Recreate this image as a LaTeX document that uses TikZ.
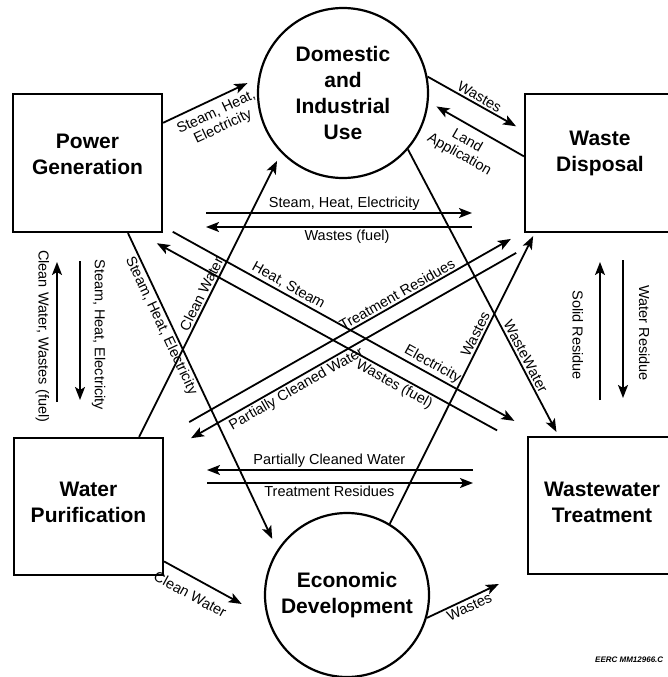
\documentclass[tikz,border=0pt]{standalone}
\usepackage{fontspec}
\setmainfont{Liberation Sans}
\usetikzlibrary{arrows.meta}
\newcommand\headfont{\fontsize{21}{26}\selectfont\bfseries}
\newcommand\tagfont{\fontsize{14.5}{16}\selectfont}
\tikzset{
  unit/.style={draw, line width=2.2pt, minimum width=149pt, minimum height=138pt, inner sep=0pt},
  hub/.style={draw, circle, line width=2.2pt, inner sep=0pt, align=center, font=\headfont},
  title/.style={align=center, font=\headfont},
  flow/.style={line width=1.8pt, ->},
  tag/.style={font=\tagfont, align=center, inner sep=2pt},
  >={Stealth[length=13pt,width=10pt,inset=3pt]},
}
\begin{document}
\begin{tikzpicture}[x=1pt, y=-1pt]
\useasboundingbox (0,0) rectangle (667,677);
% the six sectors
\node[unit] (pg) at (87.5,163) {};
\node[title] (pgname) at ([yshift=9pt]pg.center) {Power\\Generation};
\node[unit, minimum width=150pt] (wd) at (600,163) {};
\node[title] (wdname) at ([yshift=10pt]wd.center) {Waste\\Disposal};
\node[unit, minimum height=137pt] (wp) at (88.5,506.5) {};
\node[title] (wpname) at ([yshift=4pt]wp.center) {Water\\Purification};
\node[unit, minimum width=148pt, minimum height=137pt] (wt) at (602,505.5) {};
\node[title] (wtname) at ([yshift=3.5pt]wt.center) {Wastewater\\Treatment};
\node[hub, minimum size=170pt] (du) at (343,93) {Domestic\\and\\Industrial\\Use};
\node[hub, minimum size=164pt] (ed) at (347,595) {Economic\\Development};

% flows between the sectors
\draw[flow, shorten >=12pt] (pg.28.7) -- (du.170.5)
  node[tag, midway, sloped, below=4pt] {Steam, Heat,\\Electricity};
\draw[flow, shorten >=9pt] (du.11.4) -- (wd.157.2)
  node[tag, midway, sloped, above] {Wastes};
\draw[flow, shorten >=9pt] (wd.175.4) -- (du.-6)
  node[tag, pos=.52, sloped, below=5pt] {Land\\Application};
\draw[flow, shorten >=12pt] (pg.-60.2) -- (ed.147.2)
  node[tag, pos=.28, sloped, below] {Steam, Heat, Electricity};
\draw[flow, shorten >=9pt] (wp.54.7) -- (du.-136)
  node[tag, pos=.49, sloped, above] {Clean Water};
\draw[flow, shorten <=11pt, shorten >=31pt] (pg.-40.4) -- (wt.131.2)
  node[tag, pos=.32, sloped, above] {Heat, Steam}
  node[tag, pos=.70, sloped, above] {Electricity};
\draw[flow, shorten <=34pt, shorten >=21pt] (wt.142.4) -- (pg.-54.3)
  node[tag, pos=.33, sloped, below] {Wastes (fuel)};
\draw[flow, shorten <=30pt, shorten >=15pt] (wp.43.5) -- (wd.-138.4)
  node[tag, pos=.66, sloped, above] {Treatment Residues};
\draw[flow, shorten <=40pt, shorten >=31pt] (wd.-125.9) -- (wp.35.7)
  node[tag, pos=.67, sloped, below] {Partially Cleaned Water};
\draw[flow, shorten >=4.5pt] (du.-41.7) -- (wt.122.1)
  node[tag, pos=.735, sloped, above] {WasteWater};
\draw[flow, shorten >=3.4pt] (ed.59.5) -- (wd.-133.5)
  node[tag, pos=.64, sloped, above] {Wastes};
\draw[flow, shorten >=29pt] (wp.-36.7) -- (ed.-164.9)
  node[tag, pos=.33, sloped, below=8pt] {Clean Water};
\draw[flow, shorten >=31pt] (ed.-16) -- (wt.-139.1)
  node[tag, pos=.39, sloped, below] {Wastes};

% free-standing pairs in the middle
\coordinate (steamL) at (206,213);  \coordinate (steamR) at (472,213);
\coordinate (fuelL) at (206,227);   \coordinate (fuelR) at (472,227);
\coordinate (pcwL) at (207,470);    \coordinate (pcwR) at (473,470);
\coordinate (resL) at (207,483);    \coordinate (resR) at (473,483);
\draw[flow] (steamL) -- (steamR) node[tag, pos=.52, above] {Steam, Heat, Electricity};
\draw[flow] (fuelR) -- (fuelL) node[tag, pos=.47, below] {Wastes (fuel)};
\draw[flow] (pcwR) -- (pcwL) node[tag, pos=.54, above] {Partially Cleaned Water};
\draw[flow] (resL) -- (resR) node[tag, pos=.46, below] {Treatment Residues};

% vertical pairs, text reads downwards
\coordinate (cwTop) at (57,262);   \coordinate (cwBot) at (57,402);
\coordinate (sheTop) at (80,261);  \coordinate (sheBot) at (80,400);
\coordinate (srTop) at (600,262);  \coordinate (srBot) at (600,400);
\coordinate (wrTop) at (623,260);  \coordinate (wrBot) at (623,398);
\draw[flow] (cwBot) -- (cwTop)
  node[tag, pos=.47, rotate=-90, anchor=north, inner sep=7pt] {Clean Water, Wastes (fuel)};
\draw[flow] (sheTop) -- (sheBot)
  node[tag, pos=.53, rotate=-90, anchor=south, inner sep=11pt] {Steam, Heat, Electricity};
\draw[flow] (srBot) -- (srTop)
  node[tag, pos=.47, rotate=-90, anchor=north, inner sep=16pt] {Solid Residue};
\draw[flow] (wrTop) -- (wrBot)
  node[tag, pos=.53, rotate=-90, anchor=south, inner sep=15pt] {Water Residue};

\node[font=\fontsize{8}{8}\selectfont\bfseries\itshape, anchor=west, inner sep=0pt] (drawno) at (595,660) {EERC MM12966.C};
\end{tikzpicture}
\end{document}
